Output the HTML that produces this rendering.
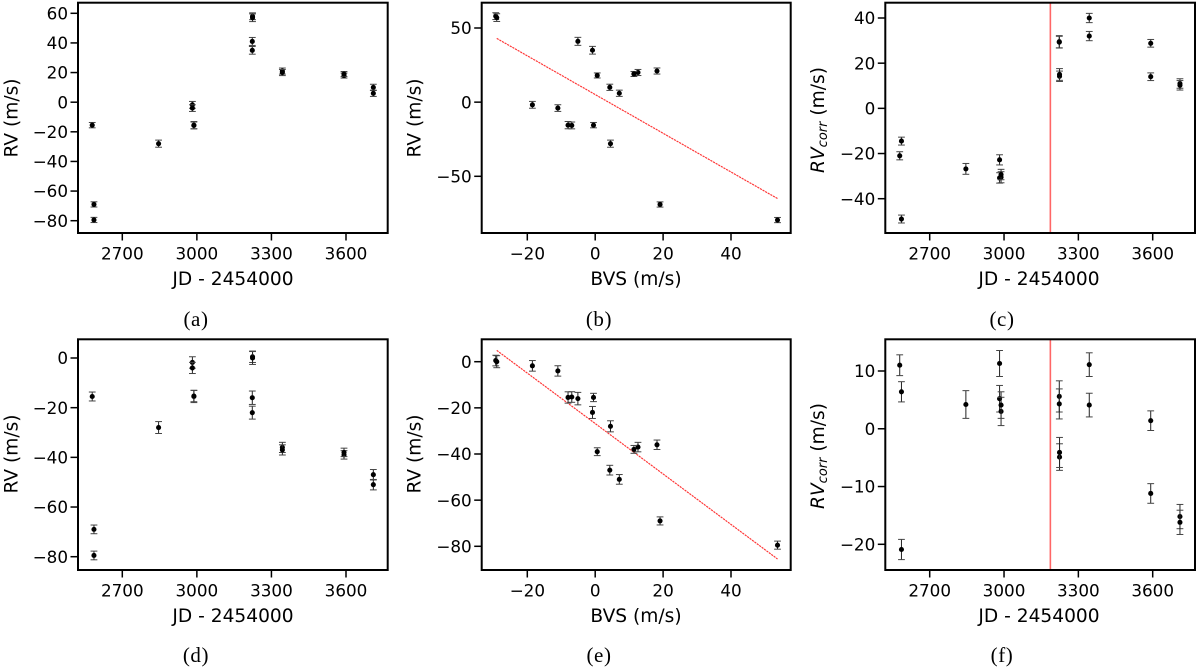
<!DOCTYPE html>
<html lang="en">
<head>
<meta charset="utf-8">
<title>RV chart panels</title>
<style>
html,body{margin:0;padding:0;background:#fff;width:1200px;height:670px;overflow:hidden}
svg{display:block;filter:blur(0.35px)}
.tick{font:16.8px "DejaVu Sans",sans-serif;fill:#000}
.lab{font:18.6px "DejaVu Sans",sans-serif;fill:#000}
.cap{font:21px "Liberation Serif",serif;fill:#000;letter-spacing:0.6px}
</style>
</head>
<body>
<svg id="fig" xmlns="http://www.w3.org/2000/svg" width="1200" height="670" viewBox="0 0 1200 670"></svg>
<script>
const jd = [2579,2586,2586,2846,2982,2982,2988,2988,3223,3223,3224,3224,3344,3344,3592,3592,3710,3710];
const bvs = [-0.5,19.1,53.7,4.5,-18.5,-11,-8,-6.9,-5.1,-0.8,-29.3,-29,18.2,12.6,0.6,11.4,4.3,7.1];
const rvRaw = [-15.5,-69,-79.5,-28,-1.8,-4,-15.5,-15.7,41,35,58,57,21,20,18,19,10,6];
const rvAdjusted = [-15.5,-69,-79.5,-28,-1.8,-4,-15.5,-15.3,-16,-22,0.5,0,-36,-37,-39,-38,-47,-51];
const rvCorrC = [-21,-49,-14.5,-26.8,-30.8,-22.8,-30.5,-29.3,29.5,29.3,14.2,15,40,32,14,28.8,11,10.2];
const rvCorrF = [11,-20.9,6.4,4.2,5.2,11.3,3.0,4.1,5.6,4.3,-4.9,-4.1,11.1,4.1,-11.2,1.4,-15.2,-16.2];
const rvErr = [1.8,1.75,1.75,2.4,2.3,2.25,2.45,2.3,2.7,2.6,2.3,2.6,2.05,2.05,1.7,1.7,2.1,2.1];
const jdTicks = [2700,3000,3300,3600];
const bvsTicks = [-20,0,20,40];
const yTicksA = [60,40,20,0,-20,-40,-60,-80];
const yTicksB = [50,0,-50];
const yTicksC = [40,20,0,-20,-40];
const yTicksD = [0,-20,-40,-60,-80];
const yTicksF = [10,0,-10,-20];
const fitBvs = [-29,53.7];
const fitRvB = [43,-65];
const fitRvE = [4.9,-85.5];
const activityJd = [3187];

const NS = 'http://www.w3.org/2000/svg';
const fig = document.getElementById('fig');
function mk(parent, tag, attrs, text){
  const e = document.createElementNS(NS, tag);
  for (const k in attrs) e.setAttribute(k, attrs[k]);
  if (text !== undefined) e.textContent = text;
  parent.appendChild(e);
  return e;
}
function linear(v0, p0, v1, p1){
  return v => p0 + (v - v0) * (p1 - p0) / (v1 - v0);
}
function fmt(v){ return v < 0 ? '\u2212' + Math.abs(v) : String(v); }

function panel(o){
  const g = mk(fig, 'g', {});
  
  
  const sx = linear(o.xCal[0], o.xCal[1], o.xCal[2], o.xCal[3]);
  const sy = linear(o.yCal[0], o.yCal[1], o.yCal[2], o.yCal[3]);

  if (o.fit) {
    const fit = mk(g, 'line', {x1:sx(fitBvs[0]), y1:sy(o.fit[0]), x2:sx(fitBvs[1]), y2:sy(o.fit[1]), stroke:'#f33', 'stroke-width':1.15, 'stroke-dasharray':'2.2 0.8'});
    
    
  }
  if (o.vline) {
    const v = mk(g, 'line', {x1:sx(activityJd[0]), x2:sx(activityJd[0]), y1:o.t, y2:o.b, stroke:'#f66', 'stroke-width':1.6});
    
    
  }

  o.xs.forEach((xv, i) => {
    const px = sx(xv), py = sy(o.ys[i]);
    const e = rvErr[i];
    const pt = mk(g, 'g', {});
    
    
    mk(pt, 'line', {x1:px, x2:px, y1:sy(o.ys[i]+e), y2:sy(o.ys[i]-e), stroke:'#222', 'stroke-width':1});
    mk(pt, 'line', {x1:px-3.4, x2:px+3.4, y1:sy(o.ys[i]+e), y2:sy(o.ys[i]+e), stroke:'#444', 'stroke-width':1});
    mk(pt, 'line', {x1:px-3.4, x2:px+3.4, y1:sy(o.ys[i]-e), y2:sy(o.ys[i]-e), stroke:'#444', 'stroke-width':1});
    mk(pt, 'circle', {cx:px, cy:py, r:2.55, fill:'#000'});
  });

  const frame = mk(g, 'rect', {x:o.l, y:o.t, width:o.r-o.l, height:o.b-o.t, fill:'none', stroke:'#000', 'stroke-width':2});
  
  

  o.xTicks.forEach(t => {
    const m = mk(g, 'line', {x1:sx(t), x2:sx(t), y1:o.b, y2:o.b+7.5, stroke:'#000', 'stroke-width':1.5});
    
    
    const l = mk(g, 'text', {x:sx(t), y:o.b+26.5, 'text-anchor':'middle', class:'tick'}, fmt(t));
    
    
  });
  o.yTicks.forEach(t => {
    const m = mk(g, 'line', {x1:o.l-7.5, x2:o.l, y1:sy(t), y2:sy(t), stroke:'#000', 'stroke-width':1.5});
    
    
    const l = mk(g, 'text', {x:o.l-10, y:sy(t)+6.1, 'text-anchor':'end', class:'tick'}, fmt(t));
    
    
  });

  const xl = mk(g, 'text', {x:o.xlX, y:o.xlY, 'text-anchor':'middle', class:'lab'}, o.xLabel);
  
  

  const yl = mk(g, 'text', {transform:'translate(' + o.ylX + ' ' + o.ylY + ') rotate(-90)', 'text-anchor':'middle', class:'lab'});
  
  
  if (o.corr) {
    mk(yl, 'tspan', {'font-style':'italic'}, 'RV');
    mk(yl, 'tspan', {'font-style':'italic', 'font-size':'13px', dy:'3'}, 'corr');
    mk(yl, 'tspan', {dy:'-3'}, ' (m/s)');
  } else {
    yl.textContent = 'RV (m/s)';
  }

  const c = mk(g, 'text', {x:o.capX, y:o.capY, 'text-anchor':'middle', class:'cap'}, '(' + o.id + ')');
  
  
}

const jdA = [2700,122.3,3600,346];
const bvA = [-20,527.3,40,731];
const jdC = [2700,929.7,3600,1152.7];

panel({id:'a', l:78, r:387.7, t:2.7, b:233, xCal:jdA, yCal:[60,13.3,-80,220.7], xs:jd, ys:rvRaw, xTicks:jdTicks, yTicks:yTicksA, xLabel:'JD - 2454000', xlX:233, xlY:285, ylX:17.5, ylY:118, capX:196, capY:326});
panel({id:'b', l:481.7, r:790.7, t:2.7, b:233, xCal:bvA, yCal:[50,28,-50,176.3], xs:bvs, ys:rvRaw, xTicks:bvsTicks, yTicks:yTicksB, xLabel:'BVS (m/s)', xlX:636, xlY:285, ylX:420.7, ylY:118, capX:599, capY:326, fit:fitRvB});
panel({id:'c', l:885.3, r:1195, t:2.7, b:233, xCal:jdC, yCal:[40,18,-40,198.7], xs:jd, ys:rvCorrC, xTicks:jdTicks, yTicks:yTicksC, xLabel:'JD - 2454000', xlX:1039, xlY:285, ylX:824, ylY:120, capX:1002, capY:326, corr:true, vline:true});
panel({id:'d', l:78, r:387.7, t:339.3, b:570, xCal:jdA, yCal:[0,358,-80,556.7], xs:jd, ys:rvAdjusted, xTicks:jdTicks, yTicks:yTicksD, xLabel:'JD - 2454000', xlX:233, xlY:622, ylX:17.5, ylY:454, capX:196, capY:662});
panel({id:'e', l:481.7, r:790.7, t:339.3, b:570, xCal:bvA, yCal:[0,361.7,-80,546.3], xs:bvs, ys:rvAdjusted, xTicks:bvsTicks, yTicks:yTicksD, xLabel:'BVS (m/s)', xlX:636, xlY:622, ylX:420.7, ylY:454, capX:599, capY:662, fit:fitRvE});
panel({id:'f', l:885.3, r:1195, t:339.3, b:570, xCal:jdC, yCal:[10,371,-20,544.3], xs:jd, ys:rvCorrF, xTicks:jdTicks, yTicks:yTicksF, xLabel:'JD - 2454000', xlX:1039, xlY:622, ylX:824, ylY:456, capX:1002, capY:662, corr:true, vline:true});
</script>
</body>
</html>
